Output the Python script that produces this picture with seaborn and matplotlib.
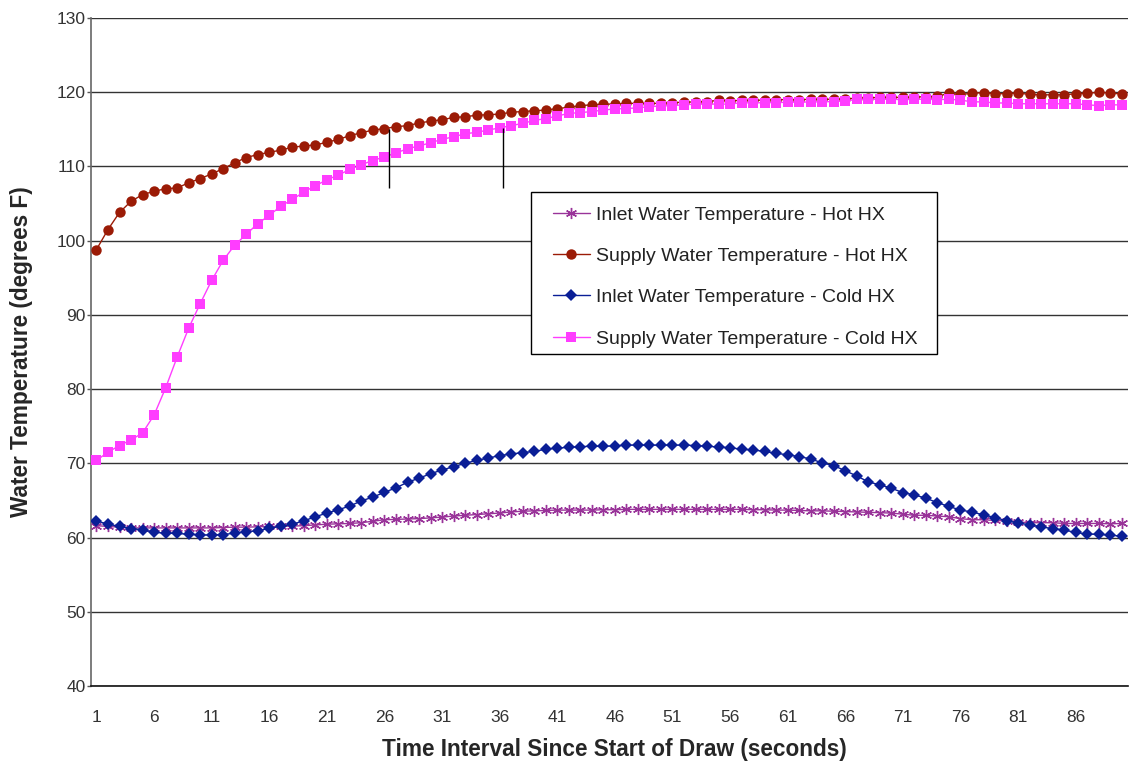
import numpy as np
import pandas as pd
import matplotlib
matplotlib.use("Agg")
import matplotlib.pyplot as plt
from matplotlib.patches import Rectangle
import seaborn as sns

# --------------------------
# Datos
# --------------------------
time_s = list(range(1, 91))

inlet_hot = [
    61.6, 61.5, 61.4, 61.3, 61.3, 61.3, 61.3, 61.3, 61.3, 61.3,
    61.3, 61.35, 61.4, 61.4, 61.45, 61.5, 61.5, 61.55, 61.6, 61.7,
    61.8, 61.85, 61.9, 62.0, 62.2, 62.4, 62.45, 62.5, 62.55, 62.65,
    62.75, 62.9, 63.0, 63.1, 63.2, 63.3, 63.45, 63.55, 63.6, 63.65,
    63.7, 63.7, 63.7, 63.7, 63.75, 63.75, 63.8, 63.8, 63.8, 63.8,
    63.8, 63.8, 63.8, 63.8, 63.8, 63.8, 63.8, 63.75, 63.75, 63.7,
    63.7, 63.65, 63.6, 63.6, 63.55, 63.5, 63.45, 63.4, 63.35, 63.3,
    63.15, 63.0, 63.0, 62.9, 62.8, 62.55, 62.4, 62.4, 62.3, 62.25,
    62.1, 62.0, 62.0, 62.0, 61.9, 61.9, 61.9, 61.9, 61.85, 61.9,
]

supply_hot = [
    98.8, 101.5, 103.8, 105.3, 106.2, 106.65, 107.0, 107.1, 107.8, 108.35,
    109.0, 109.7, 110.5, 111.2, 111.6, 111.9, 112.2, 112.6, 112.75, 112.9,
    113.25, 113.65, 114.15, 114.55, 114.9, 115.1, 115.35, 115.5, 115.85, 116.1,
    116.3, 116.6, 116.7, 116.9, 116.97, 117.05, 117.3, 117.4, 117.5, 117.6,
    117.8, 117.97, 118.2, 118.3, 118.4, 118.4, 118.5, 118.5, 118.5, 118.5,
    118.6, 118.65, 118.7, 118.75, 118.9, 118.85, 118.9, 118.9, 118.95, 119.0,
    119.0, 119.0, 119.05, 119.05, 119.05, 119.1, 119.2, 119.25, 119.3, 119.3,
    119.3, 119.35, 119.4, 119.45, 119.85, 119.7, 119.85, 119.95, 119.8, 119.8,
    119.9, 119.7, 119.65, 119.65, 119.65, 119.8, 119.85, 120.0, 119.9, 119.75,
]

inlet_cold = [
    62.25, 61.8, 61.5, 61.2, 61.05, 60.7, 60.6, 60.55, 60.45, 60.35,
    60.35, 60.4, 60.6, 60.8, 60.9, 61.25, 61.5, 61.8, 62.25, 62.8,
    63.3, 63.75, 64.25, 64.95, 65.45, 66.1, 66.7, 67.45, 68.0, 68.6,
    69.1, 69.55, 70.0, 70.4, 70.7, 71.05, 71.25, 71.45, 71.6, 71.9,
    72.05, 72.15, 72.25, 72.3, 72.3, 72.35, 72.45, 72.45, 72.45, 72.45,
    72.45, 72.45, 72.4, 72.3, 72.2, 72.1, 71.9, 71.8, 71.6, 71.35,
    71.15, 70.9, 70.6, 70.05, 69.7, 69.0, 68.3, 67.5, 67.1, 66.65,
    66.05, 65.75, 65.3, 64.7, 64.2, 63.7, 63.45, 63.05, 62.7, 62.25,
    62.0, 61.7, 61.45, 61.2, 61.0, 60.7, 60.45, 60.45, 60.3, 60.2,
]

supply_cold = [
    70.4, 71.5, 72.4, 73.15, 74.1, 76.5, 80.15, 84.3, 88.2, 91.5,
    94.65, 97.35, 99.4, 100.85, 102.3, 103.4, 104.65, 105.55, 106.55, 107.4,
    108.2, 108.85, 109.6, 110.25, 110.8, 111.3, 111.8, 112.4, 112.75, 113.2,
    113.65, 114.0, 114.4, 114.6, 114.9, 115.2, 115.5, 115.8, 116.2, 116.45,
    116.8, 117.15, 117.25, 117.4, 117.6, 117.75, 117.8, 117.9, 118.05, 118.15,
    118.2, 118.3, 118.4, 118.4, 118.4, 118.4, 118.6, 118.55, 118.6, 118.6,
    118.65, 118.65, 118.7, 118.7, 118.75, 118.8, 119.05, 119.05, 119.05, 119.05,
    119.0, 119.05, 119.05, 119.0, 119.05, 118.95, 118.7, 118.7, 118.55, 118.55,
    118.45, 118.45, 118.45, 118.45, 118.45, 118.45, 118.3, 118.2, 118.3, 118.3,
]

series_names = [
    "Inlet Water Temperature - Hot HX",
    "Supply Water Temperature - Hot HX",
    "Inlet Water Temperature - Cold HX",
    "Supply Water Temperature - Cold HX",
]

# líneas verticales de referencia (anotaciones del original)
ref_x = [26.4, 36.3]
ref_top = [115.1, 115.2]
ref_bottom = 107.1

x_tick_labels = list(range(1, 90, 5))
y_ticks = list(range(40, 131, 10))

# --------------------------
# Estilo
# --------------------------
sns.set_theme(style="white")
plt.rcParams["font.family"] = ["Liberation Sans", "DejaVu Sans"]

estilos = {
    series_names[0]: dict(color="#993399", marker=(6, 2, 0), ms=8, mew=1.0),
    series_names[1]: dict(color="#9B1B06", marker="o", ms=7.5, mew=0),
    series_names[2]: dict(color="#0A1E96", marker="D", ms=6.2, mew=0),
    series_names[3]: dict(color="#FF3DFF", marker="s", ms=6.8, mew=0),
}

df = pd.DataFrame({
    "t": time_s * 4,
    "temp": inlet_hot + supply_hot + inlet_cold + supply_cold,
    "serie": np.repeat(series_names, len(time_s)),
})

W, H = 1129, 761
fig = plt.figure(figsize=(W / 100, H / 100), dpi=100)
ax = fig.add_axes([90.7 / W, 1 - 686 / H, (1127.5 - 90.7) / W, (686 - 18) / H])

for nombre in series_names:
    e = estilos[nombre]
    sns.lineplot(
        data=df[df["serie"] == nombre], x="t", y="temp", ax=ax,
        color=e["color"], marker=e["marker"], markersize=e["ms"],
        markeredgewidth=e["mew"], markeredgecolor=e["color"],
        linewidth=1.0, label=nombre, zorder=3,
    )

ax.vlines(ref_x, [ref_bottom] * len(ref_x), ref_top, color="black", lw=1.0, zorder=4)

# ejes
ax.set_xlim(0.5, 90.5)
ax.set_ylim(40, 130)
ax.set_yticks(y_ticks)
ax.set_xticks(x_tick_labels)
ax.set_xticklabels([str(v) for v in x_tick_labels])
ax.set_xticks(np.arange(0.5, 91, 1), minor=True)
ax.tick_params(axis="x", which="major", length=0, pad=17, labelsize=12.5, labelcolor="#333333")
ax.tick_params(axis="x", which="minor", length=6, width=1, color="#333333", direction="out")
ax.tick_params(axis="y", which="major", length=3, width=1, color="#555555", direction="out",
               pad=0.5, labelsize=12.5, labelcolor="#333333", left=True)

ax.grid(axis="y", color="#333333", linewidth=1.0)
ax.set_axisbelow(True)
for s in ["top", "right"]:
    ax.spines[s].set_visible(False)
ax.spines["left"].set_color("#666666")
ax.spines["left"].set_linewidth(1.2)
ax.spines["bottom"].set_color("#111111")
ax.spines["bottom"].set_linewidth(1.2)

ax.set_ylabel("Water Temperature (degrees F)", fontsize=16.3, fontweight="bold")
ax.set_xlabel("Time Interval Since Start of Draw (seconds)", fontsize=16.3, fontweight="bold")
ax.yaxis.set_label_coords(-0.056, 0.5)
ax.xaxis.set_label_coords(0.5047, -0.078)

# leyenda sin marco propio; el marco se dibuja aparte
leg = ax.legend(
    loc="upper left", bbox_to_anchor=(553 / W, 1 - 206 / H), bbox_transform=fig.transFigure,
    borderaxespad=0, borderpad=0, frameon=False, fontsize=14, handlelength=1.9,
    handletextpad=0.3, labelspacing=1.22,
)
for t in leg.get_texts():
    t.set_color("#222222")
fig.patches.append(Rectangle((531 / W, 1 - 354 / H), (937 - 531) / W, (354 - 192) / H,
                             transform=fig.transFigure, fill=True, facecolor="white",
                             edgecolor="black", lw=1.0, zorder=5))
leg.set_zorder(6)
leg.remove()
fig.legends.append(leg)
leg.set_figure(fig)

fig.savefig("out.png", dpi=100)
